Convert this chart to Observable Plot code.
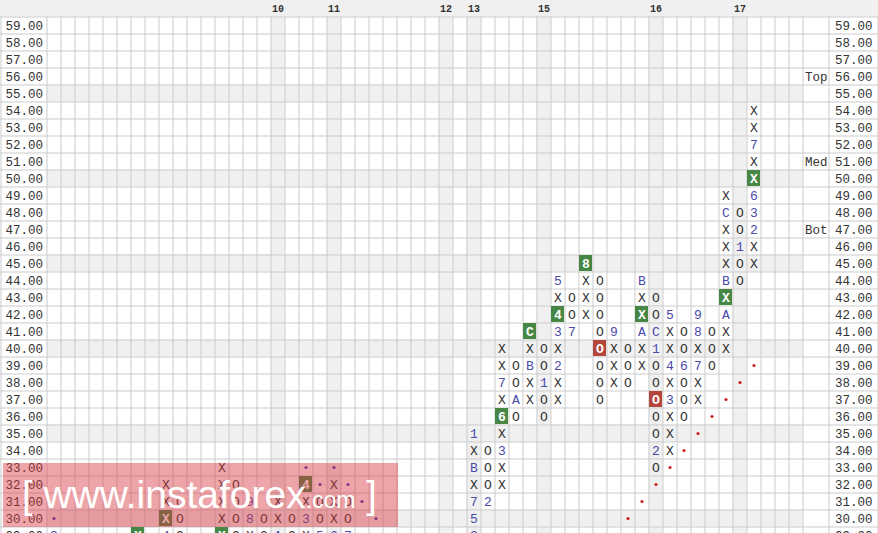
<!DOCTYPE html>
<html>
<head>
<meta charset="utf-8">
<script src="https://cdn.jsdelivr.net/npm/d3@7"></script>
<script src="https://cdn.jsdelivr.net/npm/@observablehq/plot@0.6"></script>
<style>
  html, body { margin: 0; padding: 0; overflow: hidden; background: #fff; }
  #wrap { position: relative; width: 878px; height: 533px; overflow: hidden; }
  #chart svg { display: block; }
  #wm { position: absolute; left: 3px; top: 463px; width: 395px; height: 64px;
        background: rgba(215, 55, 65, 0.45); pointer-events: none; }
  #wm .t { position: absolute; left: 19px; top: 12px; white-space: nowrap; color: #fff;
           font-family: "Liberation Sans", Arial, sans-serif; font-size: 39px; line-height: 39px; }
  #wm .s { font-size: 23px; }
  #wm .b { font-size: 38px; font-weight: 300; }
</style>
</head>
<body>
<div id="wrap">
  <div id="chart"></div>
  <div id="wm"><div class="t"><span class="b">[</span> www.instaforex<span class="s">.com</span> <span class="b">]</span></div></div>
</div>
<script>
// ---------- data ----------
// point & figure columns: [column index, lowest price, symbols going upward]
// X / O = boxes, 1-9 A B C = month markers, gN = buy-signal box, rN = sell-signal box
const pfColumns = [
  [0, 29, "8"],
  [6, 29, "gX"],
  [8, 29, "4 gX X X"],
  [9, 29, "O O O"],
  [12, 29, "gX X X X X"],
  [13, 29, "O O O O"],
  [14, 29, "X 8 9"],
  [15, 29, "O O"],
  [16, 29, "A X X"],
  [17, 29, "O O"],
  [18, 29, "X 3 X g4"],
  [19, 29, "5 O O"],
  [20, 29, "6 X X X"],
  [21, 29, "7 O O"],
  [30, 29, "3 5 7 X B X 1"],
  [31, 31, "2 O O O"],
  [32, 32, "X X 3 X g6 X 7 X X"],
  [33, 36, "O A O O"],
  [34, 37, "X X B X gC"],
  [35, 36, "O O 1 O O"],
  [36, 37, "X X 2 X 3 g4 X 5"],
  [37, 41, "7 O O"],
  [38, 42, "X X X g8"],
  [39, 37, "O O O rO O O O O"],
  [40, 38, "X X X 9"],
  [41, 38, "O O O"],
  [42, 39, "X X A gX X B"],
  [43, 33, "O 2 O O rO O O 1 C O O"],
  [44, 34, "X X X 3 X 4 X X 5"],
  [45, 36, "O O O 6 O O"],
  [46, 37, "X X 7 X 8 9"],
  [47, 39, "O O O"],
  [48, 40, "X X A gX B X X X C X"],
  [49, 44, "O O 1 O O"],
  [50, 45, "X X 2 3 6 gX X 7 X X"]
];
// trend-line dots [column, price]
const redDots = [[41,30],[42,31],[43,32],[44,33],[45,34],[46,35],[47,36],[48,37],[49,38],[50,39]];
const blueDots = [[0,30],[18,33],[19,32],[20,33],[21,32],[22,31],[23,30]];
// year labels on top band [column, label]
const yearCols = [16, 20, 28, 30, 35, 43, 49];
const yearLabels = ["10", "11", "12", "13", "15", "16", "17"];
// side markers
const sideNames = ["Top", "Med", "Bot"];
const sidePrices = [56, 51, 47];
// price rows
const priceRows = d3.range(28, 60);
const shadedRows = [55, 50, 45, 40, 35, 30];
const nCols = 54;

// ---------- layout ----------
const W = 878, H = 560;
const X0 = 46.5, CW = 14, Y0 = 25, RH = 17;
const px2c = px => (px - X0) / CW;
const py2v = py => 59 - (py - Y0) / RH;
const xDom = [px2c(0), px2c(W)];
const yDom = [py2v(H), py2v(0)];
const textColEdge = px2c(828.5);

const cells = [];
for (const [col, start, seq] of pfColumns) {
  seq.split(" ").forEach((tok, i) => {
    let kind = "plain", sym = tok;
    if (tok.length === 2 && tok[0] === "g") { kind = "buy"; sym = tok[1]; }
    else if (tok.length === 2 && tok[0] === "r") { kind = "sell"; sym = tok[1]; }
    else if (tok !== "X" && tok !== "O") kind = "month";
    cells.push({col, price: start + i, sym, kind});
  });
}
const boxes = cells.filter(d => d.kind === "buy" || d.kind === "sell");
const years = yearCols.map((c, i) => ({col: c, label: yearLabels[i]}));
const sides = sideNames.map((n, i) => ({name: n, price: sidePrices[i]}));

const mono = "'Liberation Mono', 'Courier New', monospace";
const gridColor = "#cbcbcb";
const colBounds = d3.range(0, nCols + 1).concat([textColEdge, px2c(0.5), px2c(W - 0.5)]);
const rowBounds = d3.range(27.5, 60, 1);

const chart = Plot.plot({
  width: W, height: H,
  margin: 0,
  x: {domain: xDom, axis: null},
  y: {domain: yDom, axis: null},
  style: {background: "#fff", overflow: "visible"},
  marks: [
    // header band
    Plot.rect([0], {x1: xDom[0], x2: xDom[1], y1: 59.5, y2: yDom[1], fill: "#f0f0f0"}),
    // shaded year columns
    Plot.rect(yearCols, {x1: d => d, x2: d => d + 1, y1: yDom[0], y2: 59.5, fill: "#f0f0f0"}),
    // shaded rows
    Plot.rect(shadedRows, {x1: 0, x2: nCols, y1: d => d - 0.5, y2: d => d + 0.5, fill: "#f0f0f0"}),
    // grid
    Plot.ruleY(rowBounds, {y: d => d, x1: xDom[0], x2: xDom[1], stroke: gridColor, strokeWidth: 1}),
    Plot.ruleX(colBounds, {x: d => d, y1: yDom[0], y2: 59.5, stroke: gridColor, strokeWidth: 1}),
    // signal boxes
    Plot.rect(boxes, {x1: d => d.col, x2: d => d.col + 1, y1: d => d.price - 0.5, y2: d => d.price + 0.5,
      inset: 0.5, fill: d => d.kind === "buy" ? "#468746" : "#b4463c"}),
    // symbols
    Plot.text(cells.filter(d => d.kind === "plain"), {x: d => d.col + 0.5, y: d => d.price, text: "sym",
      fill: "#333", fontFamily: mono, fontSize: 13}),
    Plot.text(cells.filter(d => d.kind === "month"), {x: d => d.col + 0.5, y: d => d.price, text: "sym",
      fill: "#4a4aaa", fontFamily: mono, fontSize: 13}),
    Plot.text(boxes, {x: d => d.col + 0.5, y: d => d.price, text: "sym",
      fill: "#fff", fontFamily: mono, fontSize: 13, fontWeight: "bold"}),
    // trend dots
    Plot.dot(redDots, {x: d => d[0] + 0.5, y: d => d[1], r: 1.6, fill: "#cc2222", stroke: "none"}),
    Plot.dot(blueDots, {x: d => d[0] + 0.5, y: d => d[1], r: 1.6, fill: "#3a3ac0", stroke: "none"}),
    // price labels
    Plot.text(priceRows, {x: px2c(5), y: d => d, text: d => d.toFixed(2), textAnchor: "start",
      fill: "#333", fontFamily: mono, fontSize: 12.5}),
    Plot.text(priceRows, {x: px2c(872), y: d => d, text: d => d.toFixed(2), textAnchor: "end",
      fill: "#333", fontFamily: mono, fontSize: 12.5}),
    // Top / Med / Bot
    Plot.text(sides, {x: px2c(827), y: "price", text: "name", textAnchor: "end",
      fill: "#333", fontFamily: mono, fontSize: 12.5}),
    // years
    Plot.text(years, {x: d => d.col + 0.5, y: py2v(8), text: "label",
      fill: "#333", fontFamily: mono, fontSize: 10, fontWeight: "bold"})
  ]
});
document.getElementById("chart").append(chart);
</script>
</body>
</html>
